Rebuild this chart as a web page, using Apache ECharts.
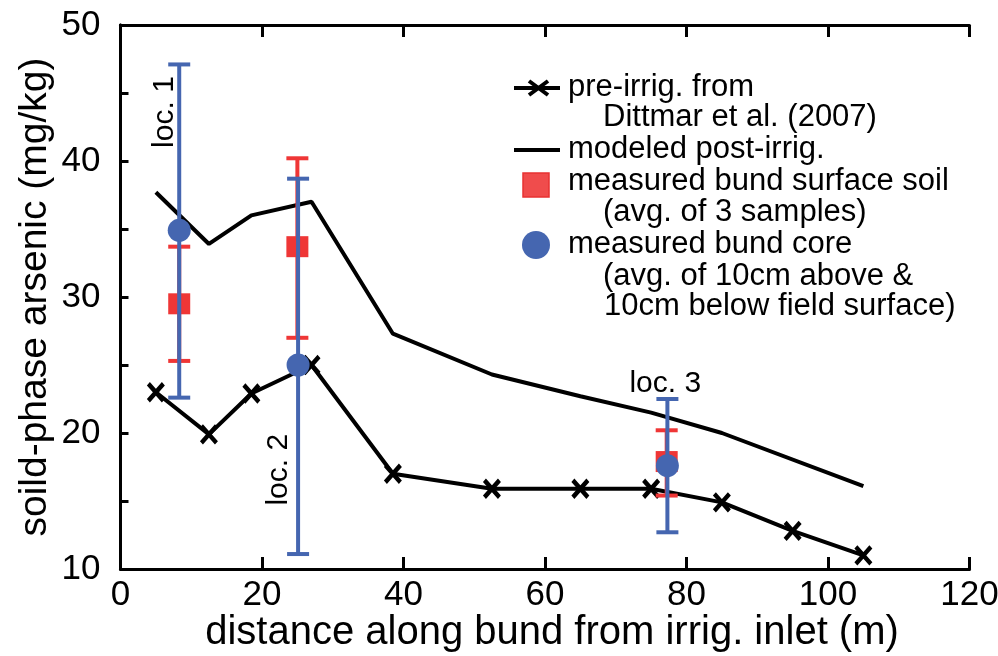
<!DOCTYPE html>
<html>
<head>
<meta charset="utf-8">
<script src="https://cdn.jsdelivr.net/npm/echarts@6/dist/echarts.min.js"></script>
<style>
  html, body { margin: 0; padding: 0; background: #fff; }
  #chart { width: 998px; height: 656px; }
</style>
</head>
<body>
<div id="chart"></div>
<script>
// Axis ranges / ticks
const xMin = 0, xMax = 120, xStep = 20;
const yMin = 10, yMax = 50, yStep = 5, yLabelStep = 10;

// Pre-irrigation profile (Dittmar et al. 2007)
const preIrrigX = [5, 12.5, 18.5, 27, 38.5, 52.5, 65, 75, 85, 95, 105];
const preIrrigY = [23.0, 19.9, 22.9, 25.0, 17.0, 15.9, 15.9, 15.9, 14.9, 12.8, 11.0];

// Modeled post-irrigation profile
const modeledX = [5, 12.5, 18.5, 27, 38.5, 52.5, 65, 75, 85, 105];
const modeledY = [37.7, 33.9, 36.0, 37.0, 27.3, 24.3, 22.7, 21.5, 20.0, 16.1];

// Measured bund surface soil (avg. of 3 samples)
const soilX = [8.3, 25.0, 77.2];
const soilMean = [29.5, 33.7, 17.9];
const soilLow = [25.3, 27.0, 15.4];
const soilHigh = [33.7, 40.2, 20.2];

// Measured bund core
const coreX = [8.3, 25.1, 77.3];
const coreMean = [34.9, 25.0, 17.6];
const coreLow = [22.6, 11.1, 12.7];
const coreHigh = [47.1, 38.7, 22.5];

// Location annotations
const locNames = ['loc. 1', 'loc. 2', 'loc. 3'];
const locX = [6.3, 22.3, 77.0];
const locY = [43.6, 17.3, 23.6];
const locRotate = [90, 90, 0];

const FONT = '"Liberation Sans", Arial, Helvetica, sans-serif';
const BLACK = '#000';
const RED = '#ef3636';
const BLUE = '#4566b0';
const X_MARK = 'path://M0,0L10,10M10,0L0,10';

const zip = (xs, ys) => xs.map((x, i) => [x, ys[i]]);
const zip3 = (xs, a, b) => xs.map((x, i) => [x, a[i], b[i]]);

function errorBars(color) {
  return function (params, api) {
    const x = api.value(0);
    const top = api.coord([x, api.value(2)]);
    const bot = api.coord([x, api.value(1)]);
    const hw = 11;
    const style = { stroke: color, lineWidth: 4, fill: null };
    return {
      type: 'group',
      children: [
        { type: 'line', shape: { x1: top[0], y1: top[1], x2: bot[0], y2: bot[1] }, style },
        { type: 'line', shape: { x1: top[0] - hw, y1: top[1], x2: top[0] + hw, y2: top[1] }, style },
        { type: 'line', shape: { x1: bot[0] - hw, y1: bot[1], x2: bot[0] + hw, y2: bot[1] }, style }
      ]
    };
  };
}

const axisLine = { show: true, lineStyle: { color: BLACK, width: 3 } };

// Legend block (top right of the plot)
const LX = 514, LW = 46, TX = 568, IND = 603, FS = 31;
const legendText = (text, x, y) => ({
  type: 'text', left: x, top: y - FS / 2 - 1,
  style: { text, fill: BLACK, font: FS + 'px ' + FONT }
});
const legendGraphic = [
  { type: 'line', shape: { x1: LX, y1: 88, x2: LX + LW, y2: 88 }, style: { stroke: BLACK, lineWidth: 4 } },
  { type: 'line', shape: { x1: LX + 15, y1: 81, x2: LX + 34, y2: 95 }, style: { stroke: BLACK, lineWidth: 4 } },
  { type: 'line', shape: { x1: LX + 34, y1: 81, x2: LX + 15, y2: 95 }, style: { stroke: BLACK, lineWidth: 4 } },
  legendText('pre-irrig. from', TX, 88),
  legendText('Dittmar et al. (2007)', IND, 118),
  { type: 'line', shape: { x1: LX, y1: 150, x2: LX + LW, y2: 150 }, style: { stroke: BLACK, lineWidth: 4 } },
  legendText('modeled post-irrig.', TX, 150),
  { type: 'rect', shape: { x: 523, y: 173, width: 26, height: 24 }, style: { fill: '#f04c4c', stroke: '#e83232', lineWidth: 1.5 } },
  legendText('measured bund surface soil', TX, 182),
  legendText('(avg. of 3 samples)', IND, 213),
  { type: 'circle', shape: { cx: 536, cy: 245, r: 14 }, style: { fill: BLUE } },
  legendText('measured bund core', TX, 245),
  legendText('(avg. of 10cm above &', IND, 277),
  legendText('10cm below field surface)', IND + 1, 307)
];

const chart = echarts.init(document.getElementById('chart'), null, { renderer: 'canvas' });
chart.setOption({
  animation: false,
  backgroundColor: '#fff',
  textStyle: { fontFamily: FONT },
  grid: { left: 120.5, right: 28.5, top: 25, bottom: 87, containLabel: false, outerBoundsMode: 'none' },
  xAxis: [
    {
      type: 'value', min: xMin, max: xMax, interval: xStep, position: 'bottom',
      axisLine,
      axisTick: { show: true, inside: true, length: 12, lineStyle: { color: BLACK, width: 3 } },
      axisLabel: { fontSize: 35, color: BLACK, margin: 9, fontFamily: FONT },
      splitLine: { show: false },
      name: 'distance along bund from irrig. inlet (m)',
      nameLocation: 'middle', nameGap: 44, nameMoveOverlap: false,
      nameTextStyle: { fontSize: 40, color: BLACK, fontFamily: FONT, padding: [0, 0, 0, 14] }
    },
    {
      type: 'value', min: xMin, max: xMax, interval: xStep, position: 'top',
      axisLine,
      axisTick: { show: true, inside: true, length: 12, lineStyle: { color: BLACK, width: 3 } },
      axisLabel: { show: false },
      splitLine: { show: false }
    }
  ],
  yAxis: [
    {
      type: 'value', min: yMin, max: yMax, interval: yStep, position: 'left',
      axisLine,
      axisTick: { show: true, inside: true, length: 8, lineStyle: { color: BLACK, width: 3 } },
      axisLabel: {
        fontSize: 35, color: BLACK, margin: 20, fontFamily: FONT,
        formatter: v => (v % yLabelStep === 0 ? String(v) : '')
      },
      splitLine: { show: false },
      name: 'soild-phase arsenic (mg/kg)',
      nameLocation: 'middle', nameGap: 66, nameMoveOverlap: false,
      nameTextStyle: { fontSize: 39, color: BLACK, fontFamily: FONT }
    },
    {
      type: 'value', min: yMin, max: yMax, interval: yStep, position: 'right',
      axisLine,
      axisTick: { show: false },
      axisLabel: { show: false },
      splitLine: { show: false }
    }
  ],
  series: [
    {
      name: 'modeled post-irrig.', type: 'line', z: 2,
      data: zip(modeledX, modeledY),
      symbol: 'none',
      lineStyle: { color: BLACK, width: 4 }
    },
    {
      name: 'pre-irrig.', type: 'line', z: 2,
      data: zip(preIrrigX, preIrrigY),
      symbol: X_MARK, symbolSize: [15, 17], showAllSymbol: true,
      itemStyle: { color: BLACK, borderColor: BLACK, borderWidth: 4.5 },
      lineStyle: { color: BLACK, width: 4 }
    },
    {
      name: 'surface soil range', type: 'custom', z: 3,
      data: zip3(soilX, soilLow, soilHigh),
      encode: { x: 0, y: [1, 2] },
      renderItem: errorBars(RED)
    },
    {
      name: 'measured bund surface soil', type: 'scatter', z: 4,
      data: zip(soilX, soilMean),
      symbol: 'rect', symbolSize: [22, 21],
      itemStyle: { color: RED, opacity: 1 }
    },
    {
      name: 'bund core range', type: 'custom', z: 5,
      data: zip3(coreX, coreLow, coreHigh),
      encode: { x: 0, y: [1, 2] },
      renderItem: errorBars(BLUE)
    },
    {
      name: 'measured bund core', type: 'scatter', z: 6,
      data: zip(coreX, coreMean),
      symbol: 'circle', symbolSize: 23,
      itemStyle: { color: BLUE, opacity: 1 }
    },
    {
      name: 'locations', type: 'scatter', z: 7, silent: true,
      data: locNames.map((n, i) => ({
        name: n, value: [locX[i], locY[i]],
        label: { rotate: locRotate[i] }
      })),
      symbol: 'circle', symbolSize: 1,
      itemStyle: { color: 'rgba(255,255,255,0)' },
      label: {
        show: true, position: 'inside', formatter: '{b}',
        fontSize: 30, color: '#000', opacity: 1,
        textBorderWidth: 0, textBorderColor: 'transparent',
        textShadowBlur: 0, fontFamily: FONT
      }
    }
  ],
  graphic: legendGraphic
});
</script>
</body>
</html>
